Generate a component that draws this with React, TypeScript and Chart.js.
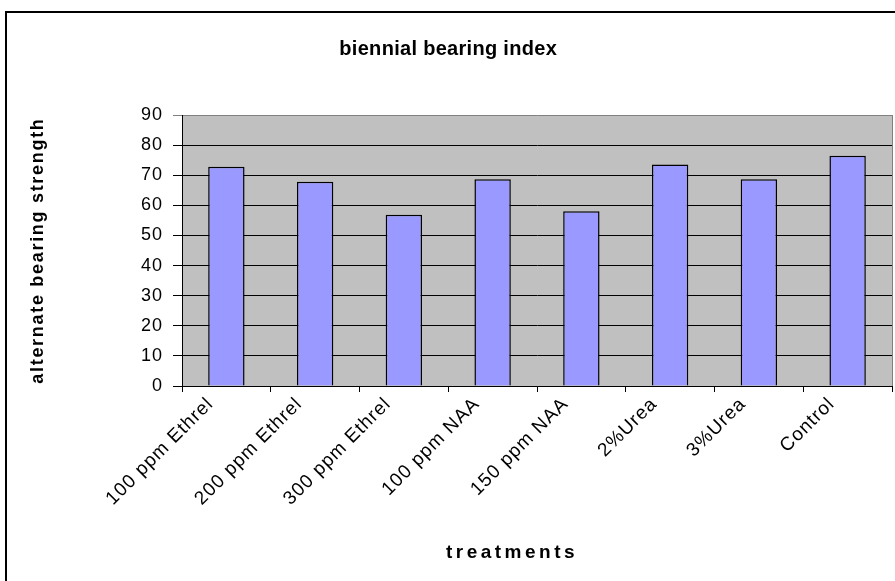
import React, { useEffect, useRef } from "react";
import { Chart, registerables } from "chart.js";

Chart.register(...registerables);

const categories = [
  "100 ppm Ethrel",
  "200 ppm Ethrel",
  "300 ppm Ethrel",
  "100 ppm NAA",
  "150 ppm NAA",
  "2%Urea",
  "3%Urea",
  "Control",
];
const values = [72.8, 67.8, 56.9, 68.7, 58.0, 73.6, 68.7, 76.5];
const yMin = 0;
const yMax = 90;
const yStep = 10;
const chartTitle = "biennial bearing index";
const xTitle = "treatments";
const yTitle = "alternate bearing strength";

const FONT = "'Liberation Sans', Arial, sans-serif";
const TICK_SPACING = "1px";

const decorPlugin = {
  id: "decor",
  beforeDraw(chart: any) {
    const { ctx, chartArea } = chart;
    ctx.save();
    ctx.fillStyle = "#ffffff";
    ctx.fillRect(0, 0, chart.width, chart.height);
    ctx.fillStyle = "#c0c0c0";
    ctx.fillRect(
      chartArea.left,
      chartArea.top,
      chartArea.right - chartArea.left,
      chartArea.bottom - chartArea.top
    );
    ctx.restore();
    (ctx as any).letterSpacing = TICK_SPACING;
  },
  afterDraw(chart: any) {
    const { ctx, chartArea } = chart;
    ctx.save();
    // outer border
    ctx.strokeStyle = "#000000";
    ctx.lineWidth = 2;
    ctx.strokeRect(6, 12, 2000, 2000);
    // plot right border
    ctx.strokeStyle = "#808080";
    ctx.lineWidth = 1;
    ctx.beginPath();
    ctx.moveTo(chartArea.right + 0.5, chartArea.top);
    ctx.lineTo(chartArea.right + 0.5, chartArea.bottom);
    ctx.stroke();

    ctx.fillStyle = "#000000";
    ctx.textAlign = "center";
    ctx.textBaseline = "alphabetic";

    // chart title
    ctx.font = `bold 20px ${FONT}`;
    (ctx as any).letterSpacing = "0.3px";
    ctx.fillText(chartTitle, 448.2, 55);

    // x title
    ctx.font = `bold 19px ${FONT}`;
    (ctx as any).letterSpacing = "3.5px";
    ctx.fillText(xTitle, 512, 558);

    // y title
    ctx.translate(43, (chartArea.top + chartArea.bottom) / 2 + 1);
    ctx.rotate(-Math.PI / 2);
    ctx.font = `bold 18px ${FONT}`;
    (ctx as any).letterSpacing = "1.7px";
    ctx.fillText(yTitle, 0.9, 0);
    ctx.restore();
    (ctx as any).letterSpacing = "0px";
  },
};

export default function App() {
  const canvasRef = useRef<HTMLCanvasElement | null>(null);

  useEffect(() => {
    if (!canvasRef.current) return;
    const chart = new Chart(canvasRef.current, {
      type: "bar",
      data: {
        labels: categories,
        datasets: [
          {
            data: values,
            backgroundColor: "#9999ff",
            borderColor: "#000000",
            borderWidth: 1.5,
            barPercentage: 0.41,
            categoryPercentage: 1,
          },
        ],
      },
      options: {
        responsive: false,
        animation: false,
        layout: { padding: { left: 0, top: 115, right: 3, bottom: 0 } },
        plugins: {
          legend: { display: false },
          title: { display: false },
          tooltip: { enabled: false },
        },
        scales: {
          x: {
            grid: {
              display: true,
              offset: true,
              drawOnChartArea: false,
              drawTicks: true,
              tickLength: 6,
              color: "#000000",
              lineWidth: 1,
            },
            border: { display: true, color: "#000000", width: 1 },
            ticks: {
              color: "#000000",
              font: { family: FONT, size: 19 },
              minRotation: 45,
              maxRotation: 45,
              autoSkip: false,
              padding: 1,
              labelOffset: -16,
            },
            afterFit(scale: any) {
              scale.height = 581 - 386;
            },
          },
          y: {
            min: yMin,
            max: yMax,
            ticks: {
              stepSize: yStep,
              color: "#000000",
              font: { family: FONT, size: 18 },
              padding: 10,
            },
            grid: {
              color: (c: any) => (c.tick && c.tick.value === yMax ? "#808080" : "#000000"),
              lineWidth: 1,
              tickLength: 9,
              drawTicks: true,
            },
            border: { display: true, color: "#000000", width: 1 },
            afterFit(scale: any) {
              scale.width = 182;
            },
          },
        },
      },
      plugins: [decorPlugin],
    });
    return () => chart.destroy();
  }, []);

  return (
    <div style={{ position: "fixed", left: 0, top: 0, width: 895, height: 581 }}>
      <canvas ref={canvasRef} width={895} height={581} />
    </div>
  );
}
